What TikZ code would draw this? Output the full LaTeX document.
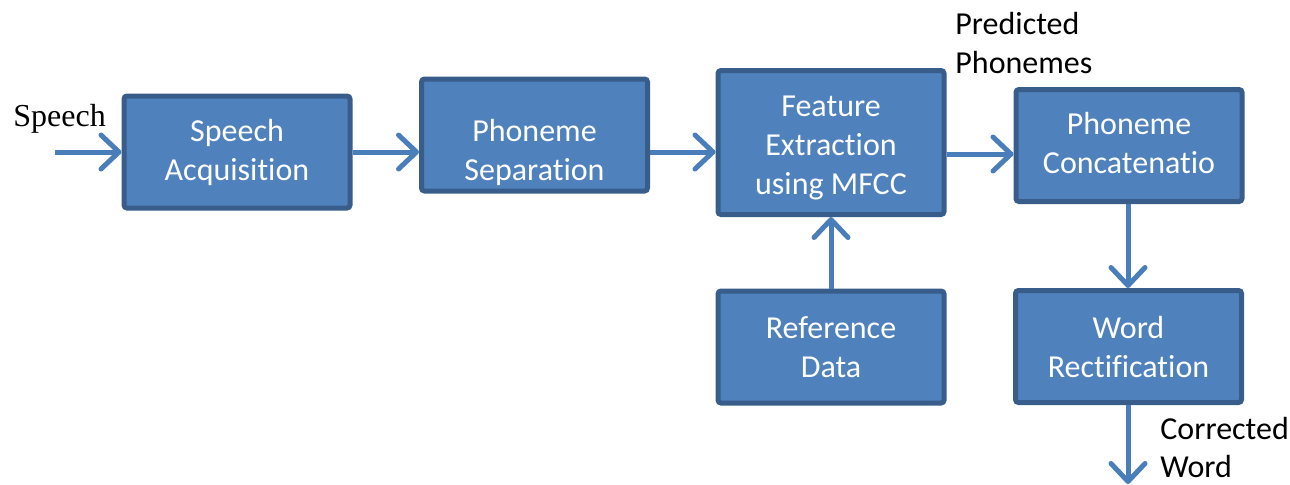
\documentclass[tikz,border=0pt]{standalone}
\usepackage{fontspec}
\setmainfont{Carlito}[Ligatures=NoCommon]
\newfontfamily\tnr{Liberation Serif}
\usetikzlibrary{arrows.meta}
\definecolor{boxfill}{RGB}{79,129,189}
\definecolor{boxline}{RGB}{56,93,138}
\definecolor{arrowc}{RGB}{74,126,187}
\begin{document}
\begin{tikzpicture}[x=0.5pt,y=-0.5pt,
  blk/.style={draw=boxline,fill=boxfill,line width=2.5pt,rounded corners=1.5pt,
    minimum width=113pt,minimum height=56pt,inner sep=0pt,align=center,
    text=white,font=\fontsize{16}{19.5}\selectfont},
  conn/.style={draw=arrowc,line width=2.5pt,
    -{Straight Barb[length=9pt,width=17pt,line cap=round,line join=round]}},
  lbl/.style={inner sep=0pt,align=left,font=\fontsize{16}{19.5}\selectfont}]
\useasboundingbox (0,0) rectangle (1290,484);
\node[blk] (b1) at (237,152) {Speech\\Acquisition};
\node[blk,text depth=0pt,text height=45pt] (b2) at (534.5,135) {Phoneme\\Separation};
\node[blk,minimum height=72pt,text depth=0pt,text height=51.5pt] (b3) at (831,142.5) {Feature\\Extraction\\using MFCC};
\node[blk,text depth=0pt,text height=27.5pt] (b4) at (1129,145.5) {Phoneme\\Concatenatio};
\node[blk] (b5) at (831,347) {Reference\\Data};
\node[blk] (b6) at (1128.5,346.5) {Word\\Rectification};
\node[inner sep=0pt,anchor=base west,font=\tnr\fontsize{16}{19}\selectfont] (sp) at (13,126) {Speech};
\node[lbl,anchor=base west] (pp) at (955,73) {Predicted\\Phonemes};
\node[lbl,anchor=base west,font=\fontsize{16}{19}\selectfont] (cw) at (1160,477) {Corrected\\Word};
\coordinate (s0) at (55,152);
\coordinate (r3) at (0,154);
\coordinate (e6) at (1128,484);
\draw[conn] (s0) -- (s0 -| b1.west);
\draw[conn] (b1.east) -- (b1.east -| b2.west);
\draw[conn] (b2.east |- b1.east) -- (b1.east -| b3.west);
\draw[conn] (b3.east |- r3) -- (b4.west |- r3);
\draw[conn] (b5.north) -- (b3.south);
\draw[conn] (b4.south -| e6) -- (b6.north -| e6);
\draw[conn] (b6.south -| e6) -- (e6);
\end{tikzpicture}
\end{document}
